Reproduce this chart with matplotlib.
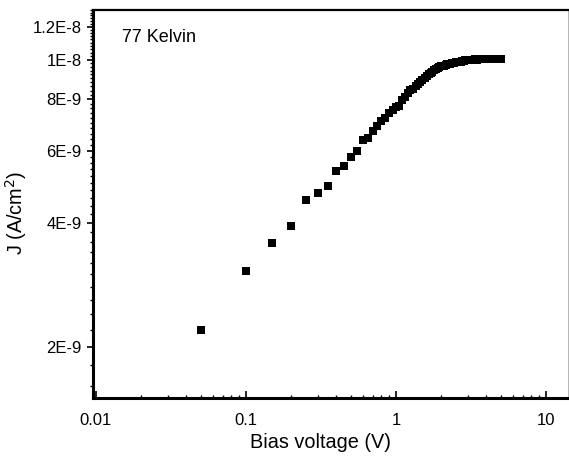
import matplotlib
matplotlib.use("Agg")
import matplotlib.pyplot as plt
from matplotlib.ticker import FixedLocator, FixedFormatter, LogLocator, MultipleLocator, NullFormatter

plt.rcParams['font.family'] = ['Liberation Sans', 'DejaVu Sans']

# bias sweep (V) and current density (A/cm^2)
bias = [0.05, 0.10, 0.15, 0.20, 0.25, 0.30, 0.35, 0.40, 0.45, 0.50,
        0.55, 0.60, 0.65, 0.70, 0.75, 0.80, 0.85, 0.90, 0.95, 1.00,
        1.05, 1.10, 1.15, 1.20, 1.25, 1.30, 1.35, 1.40, 1.45, 1.50,
        1.55, 1.60, 1.65, 1.70, 1.75, 1.80, 1.85, 1.90, 1.95, 2.00,
        2.05, 2.10, 2.15, 2.20, 2.25, 2.30, 2.35, 2.40, 2.45, 2.50,
        2.55, 2.60, 2.65, 2.70, 2.75, 2.80, 2.85, 2.90, 2.95, 3.00,
        3.05, 3.10, 3.15, 3.20, 3.25, 3.30, 3.35, 3.40, 3.45, 3.50,
        3.55, 3.60, 3.65, 3.70, 3.75, 3.80, 3.85, 3.90, 3.95, 4.00,
        4.05, 4.10, 4.15, 4.20, 4.25, 4.30, 4.35, 4.40, 4.45, 4.50,
        4.55, 4.60, 4.65, 4.70, 4.75, 4.80, 4.85, 4.90, 4.95, 5.00]

j_e9 = [2.20, 3.05, 3.58, 3.94, 4.54, 4.74, 4.93, 5.34, 5.52, 5.80,
        6.00, 6.38, 6.45, 6.70, 6.88, 7.08, 7.22, 7.40, 7.52, 7.66,
        7.72, 7.95, 8.10, 8.28, 8.42, 8.50, 8.62, 8.72, 8.82, 8.92,
        9.02, 9.10, 9.20, 9.28, 9.35, 9.42, 9.48, 9.53, 9.58, 9.62,
        9.65, 9.67, 9.70, 9.73, 9.76, 9.78, 9.80, 9.82, 9.83, 9.85,
        9.86, 9.87, 9.88, 9.89, 9.91, 9.92, 9.93, 9.95, 9.95, 9.96,
        9.97, 9.98, 9.99, 9.98, 10.00, 10.00, 10.01, 10.02, 10.00, 10.01,
        10.03, 10.02, 10.01, 10.03, 10.02, 10.03, 10.01, 10.02, 10.04, 10.03,
        10.02, 10.03, 10.01, 10.02, 10.03, 10.02, 10.01, 10.03, 10.02, 10.01,
        10.02, 10.03, 10.01, 10.02, 10.02, 10.01, 10.02, 10.01, 10.02, 10.01]
current = [v * 1e-9 for v in j_e9]

x_ticks = [0.01, 0.1, 1, 10]
x_labels = ["0.01", "0.1", "1", "10"]
y_ticks = [2e-9, 4e-9, 6e-9, 8e-9, 1e-8, 1.2e-8]
y_labels = ["2E-9", "4E-9", "6E-9", "8E-9", "1E-8", "1.2E-8"]

fig = plt.figure(figsize=(5.69, 4.59), dpi=100)
ax = fig.add_axes([0.1634, 0.1329, 0.8346, 0.8453])

ax.plot(bias, current, linestyle='none', marker='s', markersize=5.2,
        color='black', markeredgewidth=0)

ax.set_xscale('log')
ax.set_yscale('log')
ax.set_xlim(0.00955, 14.0)
ax.set_ylim(1.5e-9, 1.32e-8)

ax.xaxis.set_major_locator(FixedLocator(x_ticks))
ax.xaxis.set_major_formatter(FixedFormatter(x_labels))
ax.xaxis.set_minor_locator(LogLocator(base=10, subs=range(2, 10)))
ax.xaxis.set_minor_formatter(NullFormatter())

ax.yaxis.set_major_locator(FixedLocator(y_ticks))
ax.yaxis.set_major_formatter(FixedFormatter(y_labels))
ax.yaxis.set_minor_locator(MultipleLocator(2e-10))
ax.yaxis.set_minor_formatter(NullFormatter())

ax.tick_params(axis='x', which='major', direction='in', length=5, width=1.2,
               labelsize=12, pad=11)
ax.tick_params(axis='x', which='minor', direction='in', length=2.5, width=1.0)
ax.tick_params(axis='y', which='major', direction='out', length=4, width=1.2,
               labelsize=12, pad=4)
ax.tick_params(axis='y', which='minor', direction='out', length=2, width=1.0)

for side in ['left', 'bottom']:
    ax.spines[side].set_linewidth(2.2)
ax.spines['top'].set_linewidth(1.6)
ax.spines['right'].set_linewidth(0.6)
ax.spines['right'].set_color('#aaaaaa')

ax.set_xlabel("Bias voltage (V)", fontsize=14.3)
ax.xaxis.set_label_coords(0.48, -0.09)
ax.set_ylabel("J (A/cm$^2$)", fontsize=14.3)
ax.yaxis.set_label_coords(-0.135, 0.477)
ax.text(0.061, 0.928, "77 Kelvin", transform=ax.transAxes, fontsize=13,
        ha='left', va='center')

fig.savefig("out.png", dpi=100)
